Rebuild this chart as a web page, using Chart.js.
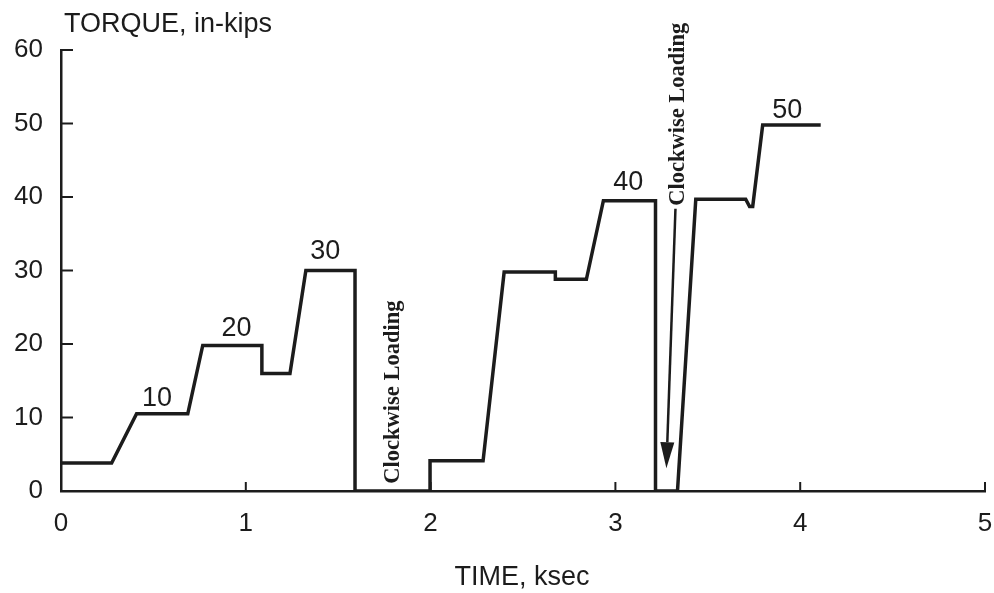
<!DOCTYPE html>
<html>
<head>
<meta charset="utf-8">
<script src="https://cdn.jsdelivr.net/npm/chart.js@4/dist/chart.umd.min.js"></script>
<style>
  html, body { margin: 0; padding: 0; background: #ffffff; }
  #wrap { width: 994px; height: 593px; }
</style>
</head>
<body>
<div id="wrap"><canvas id="c" width="994" height="593"></canvas></div>
<script>
// ---- data ----
const timeKsec = [0, 0.274, 0.409, 0.686, 0.767, 1.087, 1.087, 1.239, 1.325, 1.591, 1.591, 1.997, 1.997, 2.284, 2.398, 2.675, 2.675, 2.843, 2.935, 3.217, 3.217, 3.336, 3.435, 3.705, 3.726, 3.743, 3.797, 4.111];
const torqueKips = [3.8, 3.8, 10.5, 10.5, 19.8, 19.8, 16.0, 16.0, 30.0, 30.0, 0, 0, 4.1, 4.1, 29.8, 29.8, 28.8, 28.8, 39.5, 39.5, 0, 0, 39.7, 39.7, 38.7, 38.7, 49.8, 49.8];

const xTickValues = [0, 1, 2, 3, 4, 5];
const yTickValues = [0, 10, 20, 30, 40, 50, 60];

const stepLabels = ['10', '20', '30', '40', '50'];
const stepLabelX = [0.52, 0.95, 1.43, 3.07, 3.93];
const stepLabelY = [12.6, 22.1, 32.6, 42.0, 51.8];

const noteTexts = ['Clockwise Loading', 'Clockwise Loading'];
const noteX = [1.80, 3.34];
const noteY = [1.0, 38.8];

const arrowFrom = [3.325, 38.4];
const arrowTo = [3.276, 3.1];

const titleY = 'TORQUE, in-kips';
const titleX = 'TIME, ksec';

const INK = '#1c1c1c';
const SANS = "'Liberation Sans', Arial, Helvetica, sans-serif";
const SERIF = "'Liberation Serif', 'Times New Roman', serif";

const points = timeKsec.map((t, i) => ({ x: t, y: torqueKips[i] }));

const decorPlugin = {
  id: 'decor',
  afterDatasetsDraw(chart) {
    const ctx = chart.ctx;
    const xs = chart.scales.x, ys = chart.scales.y;
    const area = chart.chartArea;
    ctx.save();
    ctx.strokeStyle = INK;
    ctx.fillStyle = INK;
    ctx.lineWidth = 2;
    // inward ticks on y axis
    yTickValues.forEach(v => {
      const py = ys.getPixelForValue(v);
      ctx.beginPath();
      ctx.moveTo(area.left, py);
      ctx.lineTo(area.left + 12, py);
      ctx.stroke();
    });
    // inward ticks on x axis
    xTickValues.forEach(v => {
      const px = xs.getPixelForValue(v);
      ctx.beginPath();
      ctx.moveTo(px, area.bottom);
      ctx.lineTo(px, area.bottom - 9);
      ctx.stroke();
    });
    // step labels
    ctx.font = '27px ' + SANS;
    ctx.textAlign = 'center';
    ctx.textBaseline = 'middle';
    stepLabels.forEach((s, i) => {
      ctx.fillText(s, xs.getPixelForValue(stepLabelX[i]), ys.getPixelForValue(stepLabelY[i]));
    });
    // rotated notes
    ctx.font = 'bold 22.5px ' + SERIF;
    noteTexts.forEach((s, i) => {
      ctx.save();
      ctx.translate(xs.getPixelForValue(noteX[i]), ys.getPixelForValue(noteY[i]));
      ctx.rotate(-Math.PI / 2);
      ctx.textAlign = 'left';
      ctx.textBaseline = 'middle';
      ctx.fillText(s, 0, 0);
      ctx.restore();
    });
    // arrow
    const ax0 = xs.getPixelForValue(arrowFrom[0]), ay0 = ys.getPixelForValue(arrowFrom[1]);
    const ax1 = xs.getPixelForValue(arrowTo[0]), ay1 = ys.getPixelForValue(arrowTo[1]);
    const ang = Math.atan2(ay1 - ay0, ax1 - ax0);
    const headLen = 26, headHalf = 7;
    const bx = ax1 - headLen * Math.cos(ang), by = ay1 - headLen * Math.sin(ang);
    ctx.lineWidth = 2.5;
    ctx.beginPath();
    ctx.moveTo(ax0, ay0);
    ctx.lineTo(bx, by);
    ctx.stroke();
    ctx.beginPath();
    ctx.moveTo(ax1, ay1);
    ctx.lineTo(bx + headHalf * Math.sin(ang), by - headHalf * Math.cos(ang));
    ctx.lineTo(bx - headHalf * Math.sin(ang), by + headHalf * Math.cos(ang));
    ctx.closePath();
    ctx.fill();
    // titles
    ctx.font = '27px ' + SANS;
    ctx.textAlign = 'left';
    ctx.textBaseline = 'middle';
    ctx.fillText(titleY, 64, 25);
    ctx.textAlign = 'center';
    ctx.fillText(titleX, 522, 578);
    ctx.restore();
  }
};

new Chart(document.getElementById('c'), {
  type: 'scatter',
  data: {
    datasets: [{
      data: points,
      showLine: true,
      borderColor: INK,
      borderWidth: 3.5,
      pointRadius: 0,
      pointHoverRadius: 0,
      tension: 0,
      borderJoinStyle: 'miter',
      fill: false
    }]
  },
  options: {
    responsive: false,
    devicePixelRatio: 1,
    animation: false,
    layout: { padding: { left: 0, right: 9, top: 50, bottom: 0 } },
    plugins: { legend: { display: false }, tooltip: { enabled: false }, title: { display: false } },
    scales: {
      x: {
        type: 'linear',
        min: 0, max: 5,
        afterFit(scale) { scale.height = 102; scale.paddingRight = 0; scale.paddingLeft = 0; },
        afterBuildTicks(scale) { scale.ticks = xTickValues.map(v => ({ value: v })); },
        grid: { display: false, drawTicks: false },
        border: { display: true, color: INK, width: 2.5 },
        ticks: { color: INK, font: { family: SANS, size: 26 }, padding: 17, maxRotation: 0 }
      },
      y: {
        type: 'linear',
        min: 0, max: 60,
        afterFit(scale) { scale.width = 61; scale.paddingTop = 0; scale.paddingBottom = 0; },
        afterBuildTicks(scale) { scale.ticks = yTickValues.map(v => ({ value: v })); },
        grid: { display: false, drawTicks: false },
        border: { display: true, color: INK, width: 2.5 },
        ticks: { color: INK, font: { family: SANS, size: 26 }, padding: 18 }
      }
    }
  },
  plugins: [decorPlugin]
});
</script>
</body>
</html>
